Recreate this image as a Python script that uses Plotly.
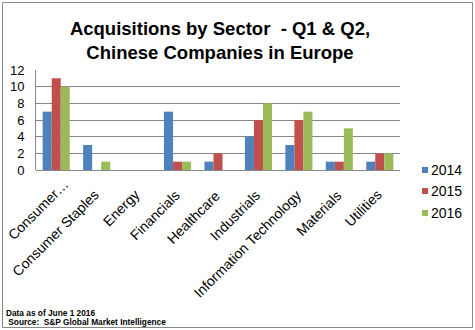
import plotly.graph_objects as go

# Deal counts per sector, first half of each year
sectors = ["Consumer…", "Consumer Staples", "Energy", "Financials", "Healthcare",
           "Industrials", "Information Technology", "Materials", "Utilities"]
years = ["2014", "2015", "2016"]
deals_2014 = [7, 3, 0, 7, 1, 4, 3, 1, 1]
deals_2015 = [11, 0, 0, 1, 2, 6, 6, 1, 2]
deals_2016 = [10, 1, 0, 1, 0, 8, 7, 5, 2]
y_ticks = [0, 2, 4, 6, 8, 10, 12]

colors = ["#4F81BD", "#C0504D", "#9BBB59"]
FONT = "Arial, Liberation Sans, sans-serif"

W, H = 475, 330
L, R, T, B = 36, 75, 70, 160
PW, PH = W - L - R, H - T - B


def px_x(x):
    return (x - L) / PW


def px_y(y):
    return (H - B - y) / PH


fig = go.Figure()
for name, vals, col in zip(years, [deals_2014, deals_2015, deals_2016], colors):
    fig.add_trace(go.Bar(x=sectors, y=vals, name=name, marker=dict(color=col, line=dict(width=0))))

fig.update_layout(
    width=W, height=H,
    margin=dict(l=L, r=R, t=T, b=B),
    paper_bgcolor="white", plot_bgcolor="white",
    barmode="group", bargap=0.33, bargroupgap=0,
    showlegend=False,
    font=dict(family=FONT, color="#000000", size=13),
    title=dict(
        text="<b>Acquisitions by Sector  - Q1 & Q2,<br>Chinese Companies in Europe</b>",
        x=220 / W, xanchor="center", xref="container",
        y=1 - 35 / H, yanchor="middle", yref="container",
        font=dict(family=FONT, size=18.5, color="#000000"),
    ),
    xaxis=dict(
        range=[-0.5, len(sectors) - 0.5], autorange=False,
        showticklabels=False, showgrid=False,
        showline=False, ticks="", zeroline=False, automargin=False,
    ),
    yaxis=dict(
        range=[0, 12], tickvals=y_ticks, tickfont=dict(size=13),
        showgrid=True, gridcolor="#878787", gridwidth=1,
        showline=True, linecolor="#878787", linewidth=1,
        zeroline=True, zerolinecolor="#878787", zerolinewidth=1,
        ticks="outside", ticklen=8, tickcolor="rgba(0,0,0,0)", automargin=False,
    ),
)

# Rotated category labels; the truncated first label sits a little further along its slant
for i, name in enumerate(sectors):
    shift = 11 if name.endswith("…") else 0
    fig.add_annotation(text=name, xref="x", yref="paper",
                       x=i, y=px_y(184), xanchor="right", yanchor="top",
                       xshift=8 + shift, yshift=shift,
                       textangle=-45, showarrow=False,
                       font=dict(size=14, family=FONT))

# Legend drawn as coloured squares with labels
legend_y = [170, 191, 213]
for name, col, ly in zip(years, colors, legend_y):
    fig.add_shape(type="rect", xref="paper", yref="paper",
                  x0=px_x(422), x1=px_x(428), y0=px_y(ly + 3), y1=px_y(ly - 3),
                  fillcolor=col, line=dict(width=0))
    fig.add_annotation(text=name, xref="paper", yref="paper",
                       x=px_x(429), y=px_y(ly), xanchor="left", yanchor="middle",
                       showarrow=False, font=dict(size=14, family=FONT))

# Footnotes
fig.add_annotation(text="<b>Data as of June 1 2016</b>", xref="paper", yref="paper",
                   x=px_x(4), y=px_y(313), xanchor="left", yanchor="middle",
                   showarrow=False, font=dict(size=8.3, family=FONT))
fig.add_annotation(text="<b> Source:  S&P Global Market Intelligence</b>", xref="paper", yref="paper",
                   x=px_x(4), y=px_y(322), xanchor="left", yanchor="middle",
                   showarrow=False, font=dict(size=8.3, family=FONT))

# Chart frame
fig.add_shape(type="rect", xref="paper", yref="paper",
              x0=px_x(2.5), x1=px_x(472.5), y0=px_y(327.5), y1=px_y(2.5),
              line=dict(color="#888888", width=1), fillcolor="rgba(0,0,0,0)", layer="below")

fig.write_html("out.html")
